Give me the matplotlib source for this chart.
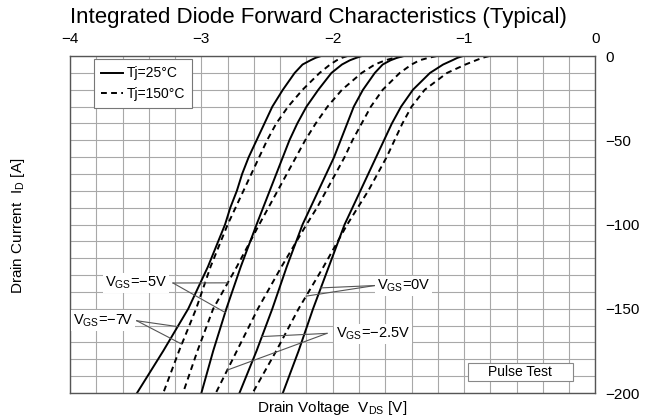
import numpy as np
import matplotlib
matplotlib.use('Agg')
import matplotlib.pyplot as plt
from matplotlib import font_manager
from matplotlib.patches import Rectangle
from matplotlib.ticker import MultipleLocator

current = [0, -1, -2.5, -5, -10, -20, -30, -40, -50, -60, -70, -80, -90,
           -100, -125, -150, -175, -200]

# drain voltage [V] at Tj = 25 C (solid)
vds_m7_25 = [-2.09, -2.13, -2.17, -2.23, -2.29, -2.38, -2.46, -2.52, -2.58, -2.64,
             -2.69, -2.73, -2.78, -2.82, -2.95, -3.10, -3.29, -3.49]
vds_m5_25 = [-1.78, -1.82, -1.87, -1.93, -2.01, -2.11, -2.20, -2.27, -2.33, -2.38,
             -2.43, -2.48, -2.53, -2.58, -2.70, -2.81, -2.91, -3.00]
vds_m25_25 = [-1.46, -1.51, -1.56, -1.62, -1.68, -1.77, -1.84, -1.89, -1.94, -1.99,
              -2.05, -2.11, -2.17, -2.23, -2.35, -2.46, -2.58, -2.71]
vds_0_25 = [-1.01, -1.05, -1.09, -1.16, -1.26, -1.39, -1.48, -1.55, -1.61, -1.67,
            -1.73, -1.79, -1.85, -1.91, -2.03, -2.15, -2.26, -2.38]

# drain voltage [V] at Tj = 150 C (dashed)
vds_m7_150 = [-1.89, -1.93, -1.97, -2.02, -2.10, -2.23, -2.34, -2.43, -2.50, -2.56,
              -2.62, -2.68, -2.74, -2.80, -2.93, -3.04, -3.17, -3.29]
vds_m5_150 = [-1.47, -1.53, -1.60, -1.68, -1.78, -1.93, -2.04, -2.13, -2.21, -2.28,
              -2.35, -2.42, -2.49, -2.56, -2.73, -2.91, -3.03, -3.14]
vds_m25_150 = [-1.21, -1.27, -1.34, -1.40, -1.49, -1.62, -1.71, -1.78, -1.85, -1.91,
               -1.98, -2.05, -2.12, -2.20, -2.39, -2.57, -2.73, -2.89]
vds_0_150 = [-0.81, -0.86, -0.91, -0.99, -1.13, -1.30, -1.40, -1.47, -1.53, -1.59,
             -1.66, -1.73, -1.81, -1.89, -2.07, -2.26, -2.43, -2.61]

legend_labels = ['Tj=25°C', 'Tj=150°C']

names = {f.name for f in font_manager.fontManager.ttflist}
narrow = 'Liberation Sans Narrow' if 'Liberation Sans Narrow' in names else 'Liberation Sans'
plt.rcParams['font.family'] = ['Liberation Sans', 'DejaVu Sans']
plt.rcParams['axes.unicode_minus'] = True

fig = plt.figure(figsize=(6.47, 4.18), dpi=100)
ax = fig.add_axes([0.1082, 0.0598, 0.8122, 0.806])

ax.set_xlim(-4, 0)
ax.set_ylim(-200, 0)
ax.xaxis.set_major_locator(MultipleLocator(1))
ax.xaxis.set_minor_locator(MultipleLocator(0.2))
ax.yaxis.set_major_locator(MultipleLocator(50))
ax.yaxis.set_minor_locator(MultipleLocator(10))
ax.xaxis.tick_top()
ax.yaxis.tick_right()
ax.tick_params(which='both', length=0)
ax.tick_params(axis='x', pad=7, labelsize=11)
ax.tick_params(axis='y', pad=7, labelsize=11)
for lab in ax.get_yticklabels():
    lab.set_horizontalalignment('left')
ax.grid(which='both', color='#a8a8a8', lw=0.8)
ax.set_axisbelow(True)
for sp in ax.spines.values():
    sp.set_color('#555555')
    sp.set_linewidth(1.0)

solid = [vds_m7_25, vds_m5_25, vds_m25_25, vds_0_25]
dashed = [vds_m7_150, vds_m5_150, vds_m25_150, vds_0_150]
for i, (s, d) in enumerate(zip(solid, dashed)):
    ax.plot(s, current, color='black', lw=1.4,
            label=legend_labels[0] if i == 0 else None)
    ax.plot(d, current, color='black', lw=1.4, dashes=(3, 2.2),
            label=legend_labels[1] if i == 0 else None)

leg = ax.legend(loc='upper left', bbox_to_anchor=(0.045, 0.99), borderaxespad=0,
                handlelength=1.6, handletextpad=0.3, labelspacing=0.5,
                borderpad=0.5, fancybox=False, framealpha=1,
                prop={'family': narrow, 'size': 10})
leg.get_frame().set_edgecolor('#777777')
leg.get_frame().set_linewidth(0.8)


def vds_at(vds, i_target):
    return np.interp(-i_target, [-c for c in current], vds)


# VGS labels with leader lines
labels = [
    (r'V$_\mathregular{GS}$=−5V', (-3.262, -134.7), 'right', (-3.216, -134.7),
     [(vds_m5_150, -134.6), (vds_m5_25, -152.2)]),
    (r'V$_\mathregular{GS}$=−7V', (-3.52, -157.1), 'right', (-3.492, -157.1),
     [(vds_m7_25, -160.6), (vds_m7_150, -171.0)]),
    (r'V$_\mathregular{GS}$=0V', (-1.666, -136.5), 'left', (-1.679, -136.2),
     [(vds_0_25, -137.6), (vds_0_150, -142.5)]),
    (r'V$_\mathregular{GS}$=−2.5V', (-1.976, -165.0), 'left', (-2.044, -164.6),
     [(vds_m25_25, -166.5), (vds_m25_150, -186.4)]),
]
for text, (tx, ty), ha, (sx, sy), targets in labels:
    for vds, i_t in targets:
        ax.plot([sx, vds_at(vds, i_t)], [sy, i_t], color='#555555', lw=0.8, zorder=3)
    ax.text(tx, ty, text, ha=ha, va='center', fontsize=10.5, zorder=4,
            bbox=dict(facecolor='white', edgecolor='none', pad=1.5))

ax.add_patch(Rectangle((0.757, 0.0356), 0.1998, 0.0543, transform=ax.transAxes,
                       facecolor='white', edgecolor='#888888', lw=0.8, zorder=4))
ax.text(0.757 + 0.0999, 0.0356 + 0.027, 'Pulse Test', transform=ax.transAxes,
        ha='center', va='center', fontsize=10, zorder=5)

fig.text(0.492, 0.957, 'Integrated Diode Forward Characteristics (Typical)',
         ha='center', va='center', fontsize=16, family=narrow)
fig.text(0.513, 0.024, r'Drain Voltage  V$_\mathregular{DS}$ [V]',
         ha='center', va='center', fontsize=11)
fig.text(0.028, 0.46, r'Drain Current  I$_\mathregular{D}$ [A]',
         ha='center', va='center', fontsize=11, rotation=90)

fig.savefig('out.png', dpi=100)
